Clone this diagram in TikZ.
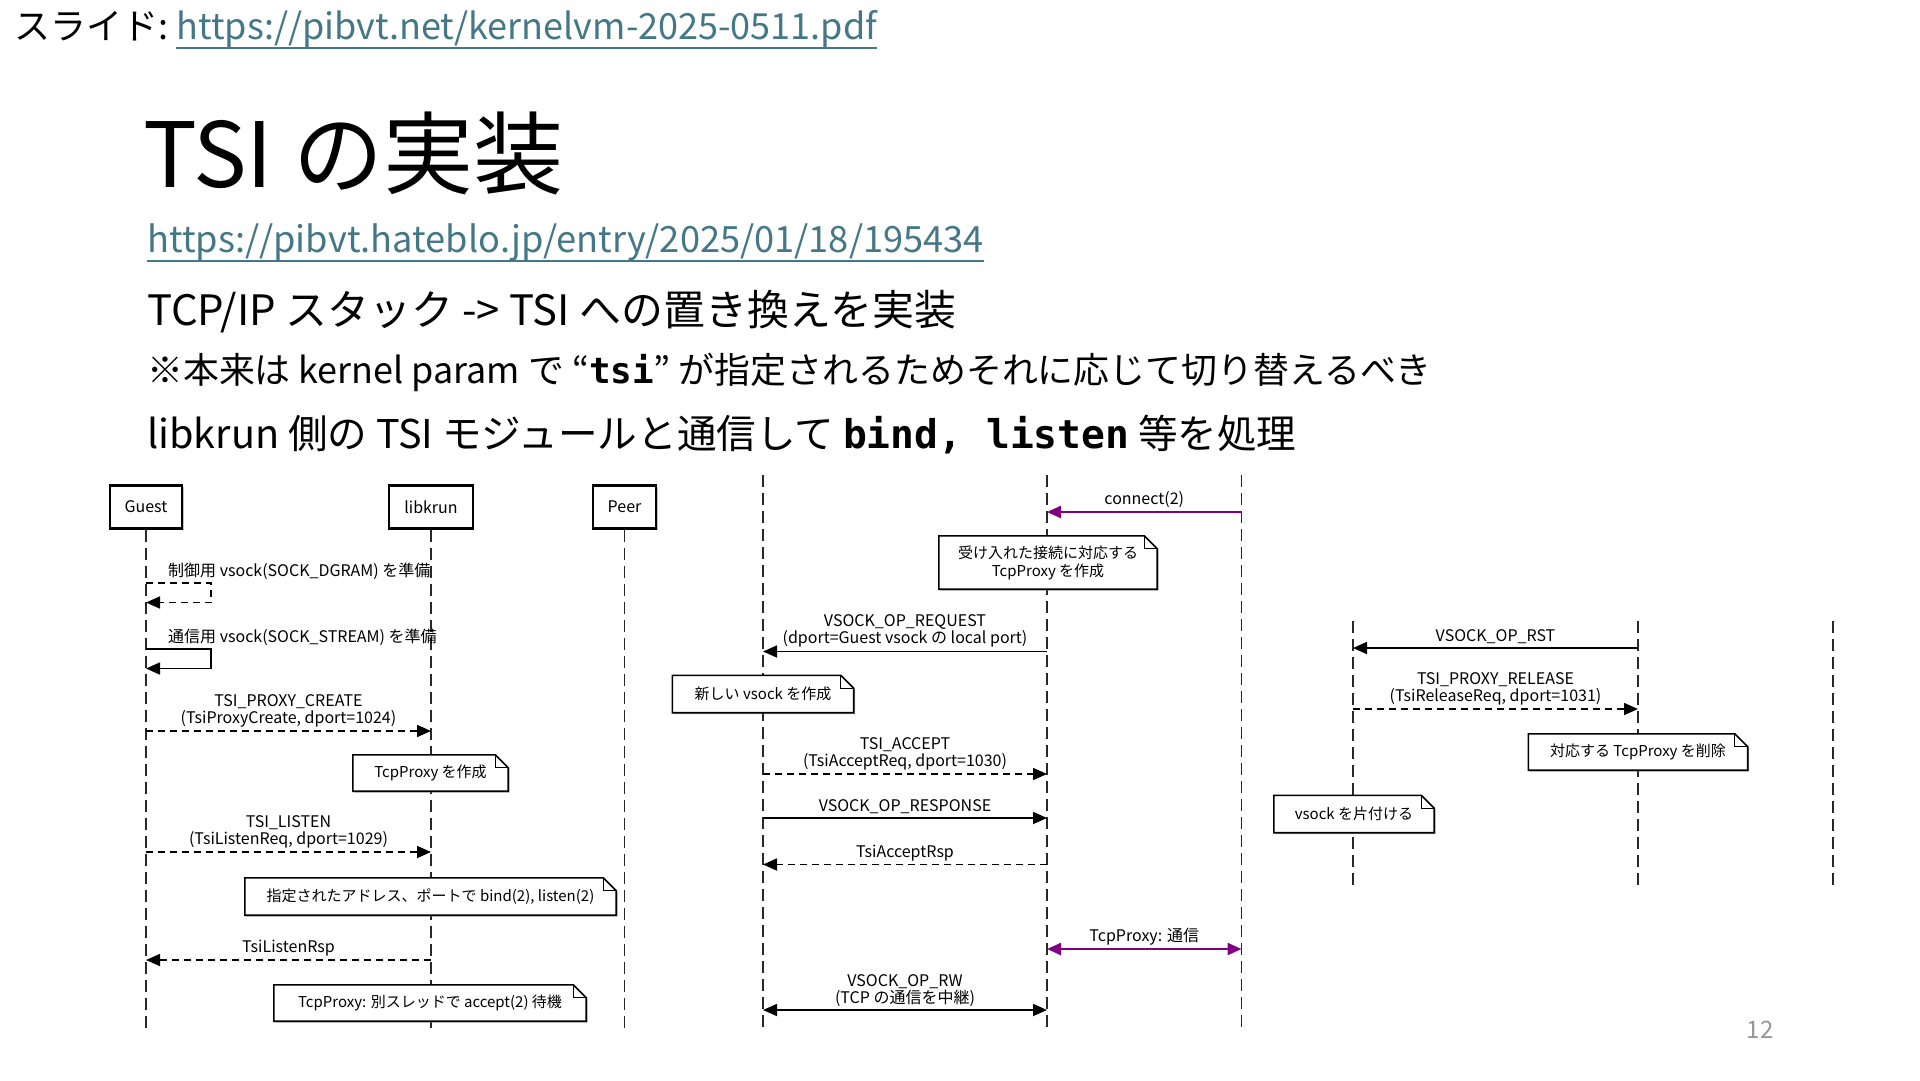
\documentclass[tikz,border=0pt]{standalone}
\usepackage{fontspec}
\setmainfont{Noto Sans CJK JP}
\newfontfamily\codefont{DejaVu Sans Mono}
\usetikzlibrary{arrows.meta,calc,positioning,shadows}
\definecolor{linkteal}{RGB}{68,120,134}
\definecolor{proxypurple}{RGB}{128,0,128}
\definecolor{pagegray}{RGB}{150,150,150}
\definecolor{lifegray}{RGB}{40,40,40}
\pgfdeclarelayer{behind}
\pgfsetlayers{behind,main}

\tikzset{
  headtext/.style={anchor=west, inner sep=0pt},
  actor/.style={draw, line width=2.2pt, fill=white, minimum height=43pt, inner xsep=15pt,
    font=\fontsize{16}{18}\selectfont, drop shadow={shadow xshift=1.5pt, shadow yshift=-1.5pt}},
  lifeline/.style={lifegray, line width=1.4pt, dash pattern=on 12pt off 6pt},
  call/.style={line width=1.7pt, ->},
  reply/.style={line width=1.7pt, dash pattern=on 7pt off 5pt, ->},
  tcp/.style={proxypurple, line width=2.4pt},
  msglabel/.style={font=\fontsize{16}{17}\selectfont, align=center, inner sep=3pt, above, text=black},
  notetext/.style={font=\fontsize{15}{18}\selectfont, align=center, inner sep=0pt},
  noteframe/.style={draw, line width=1.6pt, fill=white, drop shadow={shadow xshift=1.5pt, shadow yshift=-1.5pt}}
}
\def\fold{13pt}
\newcommand{\notebox}[1]{%
  \begin{pgfonlayer}{behind}
    \path[noteframe] (#1.south west) -- (#1.north west) -- ([xshift=-\fold]#1.north east)
      -- ([yshift=-\fold]#1.north east) -- (#1.south east) -- cycle;
    \draw[line width=1.2pt] ([xshift=-\fold]#1.north east) |- ([yshift=-\fold]#1.north east);
  \end{pgfonlayer}}

\begin{document}
\begin{tikzpicture}[x=1pt, y=-1pt, >={Triangle[length=14pt, width=12pt]}]

% Background Card
\begin{pgfonlayer}{behind}
\fill[white] (0,0) rectangle (1920,1080);
\end{pgfonlayer}
\useasboundingbox (0,0) rectangle (1920,1080);

% Slide Link
\node[headtext, font=\fontsize{36}{42}\selectfont] (slidelbl) at (14,26) {スライド:};
\node[headtext, font=\fontsize{36}{42}\selectfont, text=linkteal, base right=8pt of slidelbl] (slideurl) {https://pibvt.net/kernelvm-2025-0511.pdf};
\draw[linkteal, line width=2pt] (slideurl.south west) -- (slideurl.south east);

% Title
\node[headtext, font=\fontsize{90}{100}\selectfont] (title) at (143,153) {TSI の実装};

% Bullet Lines
\node[headtext, font=\fontsize{36.2}{42}\selectfont, text=linkteal] (blogurl) at (147,242) {https://pibvt.hateblo.jp/entry/2025/01/18/195434};
\draw[linkteal, line width=2pt] (blogurl.south west) -- (blogurl.south east);
\node[headtext, font=\fontsize{41.9}{46}\selectfont] (tcpline) at (147,312) {TCP/IP スタック -> TSI への置き換えを実装};
\node[headtext, font=\fontsize{35.9}{40}\selectfont] (paramline) at (147,372) {※本来は kernel param で “{\codefont\bfseries tsi}” が指定されるためそれに応じて切り替えるべき};
\node[headtext, font=\fontsize{39.6}{44}\selectfont] (libline) at (147,435) {libkrun 側の TSI モジュールと通信して {\codefont\bfseries bind, listen} 等を処理};

% Participants
\node[actor] (guest) at (146,507) {Guest};
\node[actor] (libkrun) at (431,507) {libkrun};
\node[actor] (peer) at (624.5,507) {Peer};
\coordinate (bottom) at (0,1031);

% Lifeline tops, second and third part
\coordinate (guestB) at (763,475);
\coordinate (libkrunB) at (1047,475);
\coordinate (peerB) at (1241.5,475);
\coordinate (guestC) at (1353,621);
\coordinate (libkrunC) at (1638,621);
\coordinate (peerC) at (1833,621);
\coordinate (bottomC) at (0,885);

% Lifelines
\begin{pgfonlayer}{behind}
\foreach \p in {guest,libkrun,peer}
  \draw[lifeline] (\p.south) -- (\p |- bottom);
\foreach \p in {guestB,libkrunB,peerB}
  \draw[lifeline] (\p) -- (\p |- bottom);
\foreach \p in {guestC,libkrunC,peerC}
  \draw[lifeline] (\p) -- (\p |- bottomC);
\end{pgfonlayer}

% Guest prepares its sockets
\coordinate (dgramA) at (0,583);
\coordinate (dgramB) at (0,602.5);
\draw[reply] (guest |- dgramA) -- ++(65,0) |- (guest |- dgramB);
\node[msglabel, anchor=south west] (dgramlbl) at ($(guest |- dgramA)+(19,0)$) {制御用 vsock(SOCK\_DGRAM) を準備};
\coordinate (streamA) at (0,649);
\coordinate (streamB) at (0,668.5);
\draw[call] (guest |- streamA) -- ++(65,0) |- (guest |- streamB);
\node[msglabel, anchor=south west] (streamlbl) at ($(guest |- streamA)+(19,0)$) {通信用 vsock(SOCK\_STREAM) を準備};

% Proxy create and listen
\coordinate (create) at (0,731);
\draw[reply] (guest |- create) -- (libkrun |- create) node[msglabel, midway] (createlbl) {TSI\_PROXY\_CREATE\\(TsiProxyCreate, dport=1024)};
\node[notetext, minimum width=155pt, minimum height=36pt] (proxynote) at (430.5,773) {TcpProxy を作成};
\notebox{proxynote}
\coordinate (listen) at (0,852);
\draw[reply] (guest |- listen) -- (libkrun |- listen) node[msglabel, midway] (listenlbl) {TSI\_LISTEN\\(TsiListenReq, dport=1029)};
\node[notetext, minimum width=371pt, minimum height=37pt] (bindnote) at (430.5,896.5) {指定されたアドレス、ポートで bind(2), listen(2)};
\notebox{bindnote}
\coordinate (listenrsp) at (0,960);
\draw[reply] (libkrun |- listenrsp) -- (guest |- listenrsp) node[msglabel, midway] (listenrsplbl) {TsiListenRsp};
\node[notetext, minimum width=312pt, minimum height=36pt] (acceptnote) at (430,1003) {TcpProxy: 別スレッドで accept(2) 待機};
\notebox{acceptnote}

% Incoming connection
\coordinate (conn) at (0,512);
\draw[tcp, ->] (peerB |- conn) -- (libkrunB |- conn) node[msglabel, midway] (connlbl) {connect(2)};
\node[notetext, minimum width=218pt, minimum height=53pt] (connnote) at (1048,562.5) {受け入れた接続に対応する\\TcpProxy を作成};
\notebox{connnote}
\coordinate (request) at (0,651.5);
\draw[call] (libkrunB |- request) -- (guestB |- request) node[msglabel, midway] (requestlbl) {VSOCK\_OP\_REQUEST\\(dport=Guest vsock の local port)};
\node[notetext, minimum width=181pt, minimum height=37pt] (vsocknote) at (763,694) {新しい vsock を作成};
\notebox{vsocknote}
\coordinate (accept) at (0,774);
\draw[reply] (guestB |- accept) -- (libkrunB |- accept) node[msglabel, midway] (acceptlbl) {TSI\_ACCEPT\\(TsiAcceptReq, dport=1030)};
\coordinate (response) at (0,818);
\draw[call] (guestB |- response) -- (libkrunB |- response) node[msglabel, midway] (responselbl) {VSOCK\_OP\_RESPONSE};
\coordinate (acceptrsp) at (0,864.5);
\draw[reply] (libkrunB |- acceptrsp) -- (guestB |- acceptrsp) node[msglabel, midway] (acceptrsplbl) {TsiAcceptRsp};
\coordinate (relay) at (0,949);
\draw[tcp, <->] (libkrunB |- relay) -- (peerB |- relay) node[msglabel, midway] (relaylbl) {TcpProxy: 通信};
\coordinate (rw) at (0,1010);
\draw[call, <->] (guestB |- rw) -- (libkrunB |- rw) node[msglabel, midway] (rwlbl) {VSOCK\_OP\_RW\\(TCP の通信を中継)};

% Teardown
\coordinate (rst) at (0,648);
\draw[call] (libkrunC |- rst) -- (guestC |- rst) node[msglabel, midway] (rstlbl) {VSOCK\_OP\_RST};
\coordinate (release) at (0,709);
\draw[reply] (guestC |- release) -- (libkrunC |- release) node[msglabel, midway] (releaselbl) {TSI\_PROXY\_RELEASE\\(TsiReleaseReq, dport=1031)};
\node[notetext, minimum width=219pt, minimum height=36pt] (deletenote) at (1638,752) {対応する TcpProxy を削除};
\notebox{deletenote}
\node[notetext, minimum width=160pt, minimum height=37pt] (cleannote) at (1354,814) {vsock を片付ける};
\notebox{cleannote}

% Page Number
\node[text=pagegray, font=\fontsize{24}{28}\selectfont] (pagenum) at (1760,1030) {12};

\end{tikzpicture}
\end{document}
